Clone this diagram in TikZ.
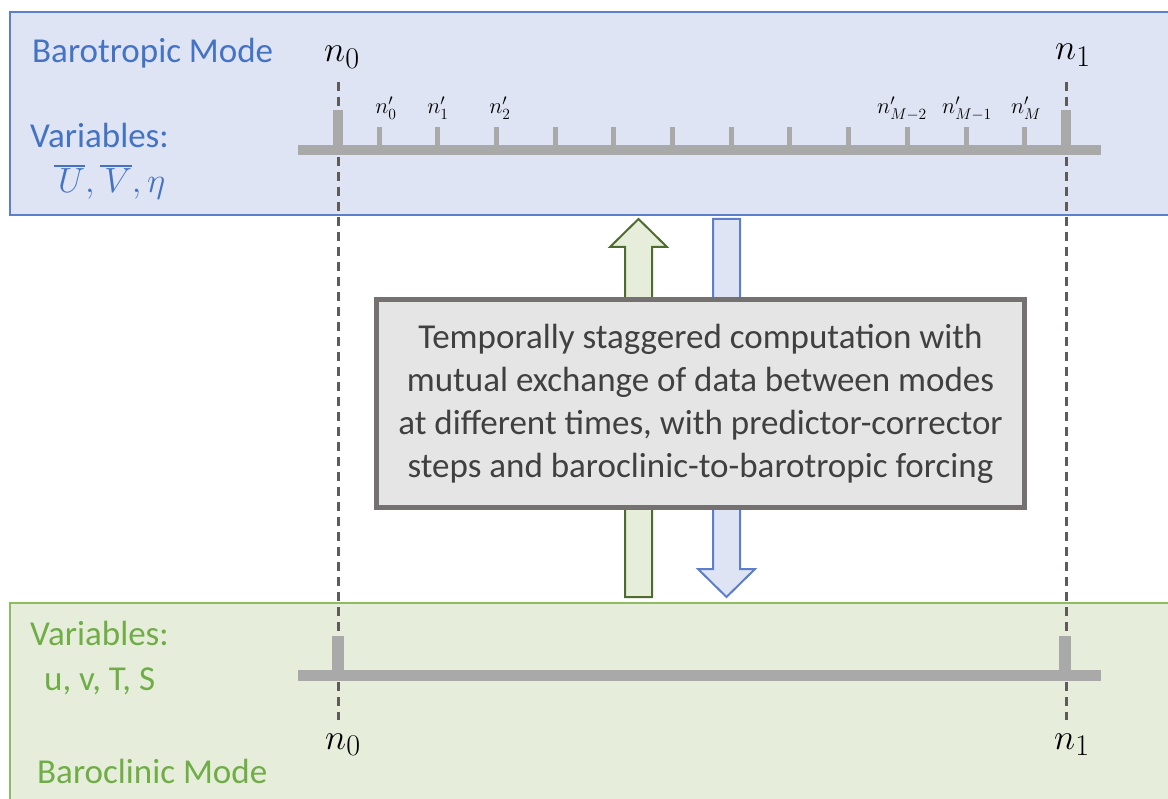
\documentclass[tikz,border=0pt]{standalone}
\usepackage[no-math]{fontspec}
\setmainfont{Carlito}
\newcommand\myovl[1]{\mathord{\vbox{\hrule height 1.3pt\kern 1.6pt\hbox{$\mkern2mu#1$}}}}
\definecolor{bluefill}{HTML}{DEE4F4}
\definecolor{bluebd}{HTML}{5B7FCC}
\definecolor{bluetxt}{HTML}{4472C4}
\definecolor{greenfill}{HTML}{E6EEDB}
\definecolor{greenbd}{HTML}{8DBB62}
\definecolor{greentxt}{HTML}{70AD47}
\definecolor{darkgreen}{HTML}{4E6B30}
\definecolor{barcol}{HTML}{A9A9A9}
\definecolor{dashcol}{HTML}{5F5B5B}
\definecolor{boxfill}{HTML}{E5E5E5}
\definecolor{boxbd}{HTML}{767171}
\definecolor{boxtxt}{HTML}{404040}
\tikzset{
  modebox/.style={anchor=north west, inner sep=0pt, line width=2pt},
  lbl/.style={anchor=base west, inner sep=0pt, font=\fontsize{35}{43}\selectfont},
  mathlbl/.style={anchor=base west, inner sep=0pt, font=\fontsize{24.88}{30}\selectfont, scale=1.407, transform shape},
  bigmath/.style={anchor=base, inner sep=0pt, font=\fontsize{24.88}{30}\selectfont, scale=1.45, transform shape},
  smallmath/.style={anchor=base, inner sep=0pt, font=\fontsize{20.74}{26}\selectfont, scale=1.08, transform shape},
  dashline/.style={draw=dashcol, line width=3pt, dash pattern=on 9pt off 6pt},
  upar/.style={draw=darkgreen, fill=greenfill, line width=2pt, line join=miter},
  downar/.style={draw=bluebd, fill=bluefill, line width=2pt, line join=miter},
  centerbox/.style={draw=boxbd, fill=boxfill, line width=5pt, minimum width=648pt, minimum height=208pt, align=center, text=boxtxt, font=\fontsize{35}{43}\selectfont, inner sep=0pt}
}
\begin{document}
\begin{tikzpicture}[x=1pt,y=-1pt]
\useasboundingbox (0,0) rectangle (1168,799);
% mode boxes
\node[modebox, draw=bluebd, fill=bluefill, minimum width=1175pt, minimum height=203pt] (baro) at (9,11) {};
\node[modebox, draw=greenbd, fill=greenfill, minimum width=1175pt, minimum height=210pt] (bcl) at (9,602) {};
% texts
\node[lbl, text=bluetxt] (t1) at (32,63) {Barotropic Mode};
\node[lbl, text=bluetxt] (t2) at (30,148) {Variables:};
\node[mathlbl, text=bluetxt] (t3) at (54,193) {$\myovl{U},\myovl{V},\eta$};
\node[lbl, text=greentxt] (t4) at (30,645) {Variables:};
\node[lbl, text=greentxt] (t5) at (44,690) {u, v, T, S};
\node[lbl, text=greentxt] (t6) at (37,783) {Baroclinic Mode};
% dashed lines
\coordinate (d0a) at (338,82);
\coordinate (d0b) at (338,720);
\coordinate (d1a) at (1066,82);
\coordinate (d1b) at (1066,720);
\draw[dashline] (d0a) -- (d0b);
\draw[dashline] (d1a) -- (d1b);
% top timeline
\fill[barcol] (298,145) rectangle (1101,155);
\fill[barcol] (333,110) rectangle (343,150);
\fill[barcol] (1061,110) rectangle (1071,150);
\foreach \k in {0,...,11}{
  \fill[barcol] ({379+58.7*\k-2.5},127) rectangle ({379+58.7*\k+2.5},147);
}
% bottom timeline
\fill[barcol] (298,670) rectangle (1101,681);
\fill[barcol] (332,636) rectangle (344,675);
\fill[barcol] (1059,636) rectangle (1071,675);
% labels
\node[bigmath] (n0t) at (342,62) {$n_0$};
\node[bigmath] (n1t) at (1073,60) {$n_1$};
\node[bigmath] (n0b) at (343,749) {$n_0$};
\node[bigmath] (n1b) at (1072,749) {$n_1$};
\node[smallmath] (m0) at (386,114) {$n'_0$};
\node[smallmath] (m1) at (438,114) {$n'_1$};
\node[smallmath] (m2) at (500,114) {$n'_2$};
\node[smallmath] (m3) at (902,114) {$n'_{M-2}$};
\node[smallmath] (m4) at (967,114) {$n'_{M-1}$};
\node[smallmath] (m5) at (1026,114) {$n'_M$};
% arrows
\draw[upar] (625,597) -- (625,247) -- (610,247) -- (638.5,219) -- (667,247) -- (652,247) -- (652,597) -- cycle;
\draw[downar] (713,219) -- (713,569) -- (698,569) -- (726.5,597) -- (755,569) -- (740,569) -- (740,219) -- cycle;
% central box
\node[centerbox] (comp) at (700.5,403.5) {Temporally staggered computation with\\mutual exchange of data between modes\\at different times, with predictor-corrector\\steps and baroclinic-to-barotropic forcing};
\end{tikzpicture}
\end{document}
